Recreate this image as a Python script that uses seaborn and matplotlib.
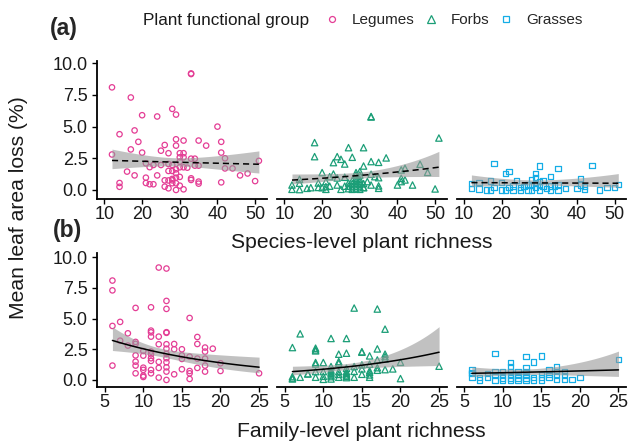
import numpy as np
import pandas as pd
import matplotlib
matplotlib.use("Agg")
import matplotlib.pyplot as plt
from matplotlib.lines import Line2D
import seaborn as sns

# ---------------- data ----------------
groups = ["Legumes", "Forbs", "Grasses"]
colors = {"Legumes": "#E43D95", "Forbs": "#1B9E77", "Grasses": "#14ADE6"}
markers = {"Legumes": "o", "Forbs": "^", "Grasses": "s"}

# species-level richness panels (row a)
leg_sp_x = [12, 17, 20, 24, 28, 29, 33, 33, 14, 18, 19, 17, 20, 12, 26, 25, 27, 29, 29, 31, 35, 37,
            40, 41, 41, 42, 42, 44, 46, 48, 50, 51, 41, 14, 14, 16, 18, 21, 22, 23, 21, 21, 22, 23, 24, 25,
            27, 28, 27, 27, 28, 27, 29, 28, 30, 31, 30, 31, 30, 30, 31, 32, 33, 34, 35, 34,
            33, 33, 35, 35, 29, 29, 30, 28, 29, 30, 31, 29, 28, 26, 26]
leg_sp_y = [8.1, 7.3, 5.9, 5.8, 6.4, 5.95, 9.15, 9.2, 4.4, 4.7, 3.8, 3.2, 2.95, 2.8, 3.55, 3.1, 2.9, 4.0, 3.5, 3.9, 3.9, 3.5,
            5.0, 3.8, 2.95, 2.5, 1.7, 1.7, 1.15, 1.3, 0.7, 2.3, 0.6, 0.55, 0.25, 1.45, 1.15, 2.1, 1.8, 1.97, 0.97, 0.55, 0.45, 0.45, 1.15, 1.97,
            2.05, 1.97, 1.5, 0.75, 0.87, 0.13, 1.63, 1.5, 2.9, 2.9, 2.58, 2.58, 2.24, 1.79, 1.79, 1.76, 2.47, 2.47, 1.92, 1.92,
            0.92, 0.79, 0.66, 0.5, 1.32, 0.97, 1.03, 0.53, 0.53, 0.34, 0.05, 0.0, 0.76, 0.76, 0.26]

forb_sp_x = [18, 18, 20, 23, 24, 25, 26, 27, 28, 31, 33, 33, 33, 35, 37, 31, 30, 29, 23, 22, 21, 19, 21, 17, 16,
             14, 14, 14, 12, 12, 20, 21, 24, 25,
             27, 27, 27, 28, 28, 28, 28, 29, 29, 29, 29, 29, 30, 30, 30, 30, 30, 31, 31, 26,
             29, 30, 32, 33, 34, 35, 35, 35, 31, 33, 40, 41, 42, 41, 41, 42, 44, 46, 48, 50, 51, 22, 19, 24, 26]
forb_sp_y = [3.74, 2.63, 1.37, 2.16, 2.63, 2.42, 2.05, 3.34, 2.58, 3.34, 5.76, 5.8, 2.24, 2.18, 2.53, 1.89, 1.45, 1.37, 1.26, 1.05, 0.66, 0.55, 0.26, 0.18, 0.13,
             0.84, 0.53, 0.03, 0.39, 0.05, 0.18, 0.05, 0.39, 0.05,
             0.1, 0.3, 0.55, 0.05, 0.25, 0.5, 0.75, 0.1, 0.3, 0.5, 0.7, 0.9, 0.05, 0.25, 0.45, 0.65, 0.85, 0.2, 0.5, 0.3,
             1.18, 1.18, 0.66, 1.24, 1.05, 0.97, 0.32, 0.13, 0.18, 0.39, 0.39, 0.92, 0.79, 0.66, 1.58, 1.71, 0.39, 2.03, 1.39, 0.08, 4.1, 0.3, 0.2, 0.95, 1.0]

grass_sp_x = [18, 21, 22, 30, 35, 44, 33, 29, 29, 41, 24, 17, 20, 14, 12, 12, 14, 16, 17, 18, 20, 21, 22, 23, 23,
              25, 25, 26, 27, 27, 28, 28, 28, 29, 29, 30, 30, 30, 31, 31, 32, 33, 33, 34, 35, 35, 37, 40, 41, 42, 42,
              46, 48, 50, 51]
grass_sp_y = [2.1, 1.32, 1.45, 1.89, 1.68, 1.92, 1.05, 1.32, 0.97, 0.92, 0.74, 0.71, 0.58, 0.58, 0.53, 0.13, 0.08, 0.0, 0.0, 0.21, 0.0, 0.0, 0.21, 0.32, 0.0,
              0.0, 0.21, 0.26, 0.39, 0.0, 0.79, 0.39, 0.0, 0.53, 0.21, 0.66, 0.34, 0.0, 0.74, 0.32, 0.13, 0.32, 0.0, 0.32, 0.39, 0.0, 0.13, 0.13, 0.39, 0.26, 0.05,
              0.0, 0.21, 0.21, 0.45]

# family-level richness panels (row b)
leg_fa_x = [6, 6, 6, 6, 7, 7, 8, 8, 9, 9, 9, 9, 9, 9, 9, 10, 10, 10, 10, 10, 10,
            11, 11, 11, 11, 11, 11, 11, 11, 11, 11, 12, 12, 12, 12, 12, 12,
            13, 13, 13, 13, 13, 13, 13, 13, 13, 13, 13, 13, 13, 14, 14, 14, 15, 15, 15, 15,
            16, 16, 16, 16, 16, 17, 17, 17, 17, 18, 18, 18, 18, 18, 19, 20, 20, 25]
leg_fa_y = [8.1, 7.3, 4.4, 1.17, 4.73, 3.2, 3.8, 2.8, 5.87, 3.1, 2.94, 2.0, 1.49, 1.17, 0.54, 2.36, 1.98, 1.0, 0.82, 0.35, 0.24,
            5.92, 4.02, 3.88, 3.53, 2.31, 2.09, 1.77, 1.55, 0.82, 0.54, 9.16, 3.53, 2.91, 1.47, 0.98, 0.19,
            9.08, 6.44, 5.79, 3.89, 3.84, 2.91, 2.55, 2.12, 1.77, 1.44, 1.03, 0.68, 0.0, 2.93, 2.5, 0.46, 2.5, 2.0, 1.71, 0.87,
            5.05, 1.9, 0.73, 0.54, 0.08, 3.5, 2.93, 1.74, 0.98, 2.64, 2.31, 1.74, 1.17, 0.68, 2.55, 1.36, 0.73, 0.54]

forb_fa_x = [14, 17, 18, 7, 6, 11, 13, 9, 9, 9, 12, 13, 15, 15, 16, 17, 18, 18, 18, 9, 10, 12, 12, 11, 14, 15, 16, 17,
             17, 18, 19, 20, 20, 25, 7, 8, 9, 9, 10, 10, 11, 11, 11, 11, 12, 12, 13, 13, 13, 13, 14, 15, 16, 16, 16,
             6, 6, 6, 11, 11, 13, 13, 8, 10, 12, 16, 17, 15, 14, 9]
forb_fa_y = [5.86, 5.78, 4.14, 3.76, 2.64, 3.38, 3.38, 2.59, 2.45, 2.37, 2.1, 2.18, 2.26, 2.3, 1.96, 2.53, 2.1, 1.9, 1.69, 1.42, 1.42, 1.36, 1.5, 1.09, 1.09, 1.23, 1.28, 1.63,
             0.79, 0.84, 0.9, 1.44, 0.11, 1.12, 0.22, 0.49, 0.68, 0.22, 0.68, 0.05, 0.8, 0.55, 0.27, 0.08, 0.68, 0.22, 0.95, 0.68, 0.41, 0.19, 0.22, 0.46, 0.74, 0.41, 0.22,
             0.27, 0.08, 0.15, 0.4, 0.65, 0.3, 0.55, 0.5, 0.3, 0.45, 0.6, 1.0, 0.9, 0.7, 1.3]

grass_fa_x = [9, 13, 15, 14, 11, 11, 17, 25, 13, 13, 16, 16, 6, 6, 6, 7, 7, 8, 8, 9, 9, 9, 10, 10, 10, 11, 11, 11,
              12, 12, 12, 13, 13, 14, 14, 15, 15, 15, 17, 17, 17, 18, 18, 18, 19, 20, 13, 10, 12, 11, 16, 6]
grass_fa_y = [2.13, 1.91, 1.96, 1.47, 1.44, 1.09, 1.09, 1.69, 1.0, 0.68, 0.82, 0.46, 0.82, 0.54, 0.22, 0.22, 0.0, 0.54, 0.22, 0.68, 0.35, 0.0, 0.68, 0.35, 0.0, 0.68, 0.35, 0.0,
              0.68, 0.35, 0.0, 0.35, 0.0, 0.2, 0.0, 0.46, 0.2, 0.0, 0.68, 0.35, 0.05, 0.68, 0.35, 0.05, 0.05, 0.2, 0.15, 0.15, 0.15, 0.15, 0.2, 0.6]

# fitted model values (log-link curves) read at the two ends of each fitted line
fit_start = {("a", "Legumes"): 2.33, ("a", "Forbs"): 0.78, ("a", "Grasses"): 0.58,
             ("b", "Legumes"): 3.22, ("b", "Forbs"): 0.68, ("b", "Grasses"): 0.54}
fit_end = {("a", "Legumes"): 2.03, ("a", "Forbs"): 1.80, ("a", "Grasses"): 0.53,
           ("b", "Legumes"): 1.04, ("b", "Forbs"): 2.26, ("b", "Grasses"): 0.82}

y_ticks = [0.0, 2.5, 5.0, 7.5, 10.0]
species_ticks = [10, 20, 30, 40, 50]
family_ticks = [5, 10, 15, 20, 25]

panel_data = {
    ("a", "Legumes"): (leg_sp_x, leg_sp_y), ("a", "Forbs"): (forb_sp_x, forb_sp_y), ("a", "Grasses"): (grass_sp_x, grass_sp_y),
    ("b", "Legumes"): (leg_fa_x, leg_fa_y), ("b", "Forbs"): (forb_fa_x, forb_fa_y), ("b", "Grasses"): (grass_fa_x, grass_fa_y),
}


def log_link_curve(x, f0, f1, n=120):
    """Log-link curve through the fitted end values, with a 95% band from the
    Poisson information matrix of the observed richness values."""
    x = np.asarray(x, float)
    x0, x1 = x.min(), x.max()
    b1 = (np.log(f1) - np.log(f0)) / (x1 - x0)
    b0 = np.log(f0) - b1 * x0
    X = np.column_stack([np.ones_like(x), x])
    mu = np.exp(X @ np.array([b0, b1]))
    cov = np.linalg.inv((X.T * mu) @ X)
    xs = np.linspace(x0, x1, n)
    Xs = np.column_stack([np.ones_like(xs), xs])
    eta = b0 + b1 * xs
    se = np.sqrt(np.einsum("ij,jk,ik->i", Xs, cov, Xs))
    return xs, np.exp(eta), np.exp(eta - 1.96 * se), np.exp(eta + 1.96 * se)


# ---------------- figure ----------------
sns.set_theme(style="white")
plt.rcParams["font.family"] = ["Liberation Sans", "DejaVu Sans"]

W, H = 629, 444
fig = plt.figure(figsize=(W / 100, H / 100), dpi=100)
fig.patch.set_facecolor("white")

lefts = [97.3, 277.3, 456.7]
pw = 169.5
rows = {"a": (61.0, 198.7), "b": (252.7, 387.3)}
xlims = {"a": (8.1, 53.1), "b": (4.04, 26.0)}
ylims = {"a": (-0.69, 10.18), "b": (-0.6, 10.37)}
xticks = {"a": species_ticks, "b": family_ticks}

for r, (top, bot) in rows.items():
    for j, g in enumerate(groups):
        ax = fig.add_axes([lefts[j] / W, 1 - bot / H, pw / W, (bot - top) / H])
        ax.set_facecolor("white")
        xv, yv = panel_data[(r, g)]
        df = pd.DataFrame({"richness": xv, "loss": yv})
        sns.scatterplot(data=df, x="richness", y="loss", color=colors[g], marker=markers[g],
                        s={"o": 15, "^": 21, "s": 15}[markers[g]], ax=ax, legend=False, zorder=2)
        coll = ax.collections[-1]
        coll.set_facecolor("none")
        coll.set_edgecolor(colors[g])
        coll.set_linewidth(0.9)

        xs, fit, lo, hi = log_link_curve(xv, fit_start[(r, g)], fit_end[(r, g)])
        ax.fill_between(xs, lo, hi, color="#999999", alpha=0.6, linewidth=0, zorder=3)
        if r == "a":
            ax.plot(xs, fit, color="black", lw=1.1, dashes=(4, 2.6), zorder=4)
        else:
            ax.plot(xs, fit, color="black", lw=1.1, zorder=4)

        ax.set_xlim(*xlims[r])
        ax.set_ylim(*ylims[r])
        ax.set_xticks(xticks[r])
        ax.set_xlabel("")
        ax.set_ylabel("")
        for s in ["top", "right"]:
            ax.spines[s].set_visible(False)
        ax.spines["bottom"].set_color("black")
        ax.spines["bottom"].set_linewidth(1.3)
        ax.tick_params(axis="x", direction="out", length=3.4, width=1.0, color="black",
                       labelsize=13, labelcolor="#1a1a1a", pad=1.5, bottom=True)
        if j == 0:
            ax.spines["left"].set_color("black")
            ax.spines["left"].set_linewidth(1.3)
            ax.set_yticks(y_ticks)
            ax.set_yticklabels([f"{v:.1f}" for v in y_ticks])
            ax.tick_params(axis="y", direction="out", length=3.4, width=1.0, color="black",
                           labelsize=13, labelcolor="#1a1a1a", pad=3.5, left=True)
        else:
            ax.spines["left"].set_visible(False)
            ax.set_yticks([])

# panel tags
fig.text(50 / W, 1 - 29 / H, "(a)", fontsize=16.5, fontweight="bold", ha="left", va="center")
fig.text(53 / W, 1 - 230 / H, "(b)", fontsize=16.5, fontweight="bold", ha="left", va="center")

# axis titles
fig.text(361.5 / W, 1 - 242 / H, "Species-level plant richness", fontsize=15.2, ha="center", va="center",
         color="#1a1a1a")
fig.text(361.5 / W, 1 - 431 / H, "Family-level plant richness", fontsize=15.2, ha="center", va="center",
         color="#1a1a1a")
fig.text(19 / W, 1 - 208 / H, "Mean leaf area loss (%)", fontsize=15.2, rotation=90, ha="center",
         va="center", color="#1a1a1a")

# legend
fig.text(142.7 / W, 1 - 20 / H, "Plant functional group", fontsize=12.3, ha="left", va="center",
         color="#1a1a1a")
handles = [Line2D([], [], linestyle="none", marker=markers[g], markersize={"o": 4.3, "^": 5.1, "s": 4.3}[markers[g]],
                  markerfacecolor="none", markeredgecolor=colors[g], markeredgewidth=0.9) for g in groups]
fig.legend(handles, groups, ncol=3, loc="center left", bbox_to_anchor=(324.4 / W, 1 - 20 / H),
           frameon=False, fontsize=11, handlelength=1.0, handletextpad=0.8, columnspacing=0.58,
           borderpad=0, borderaxespad=0)

fig.savefig("out.png", dpi=100, facecolor="white")
